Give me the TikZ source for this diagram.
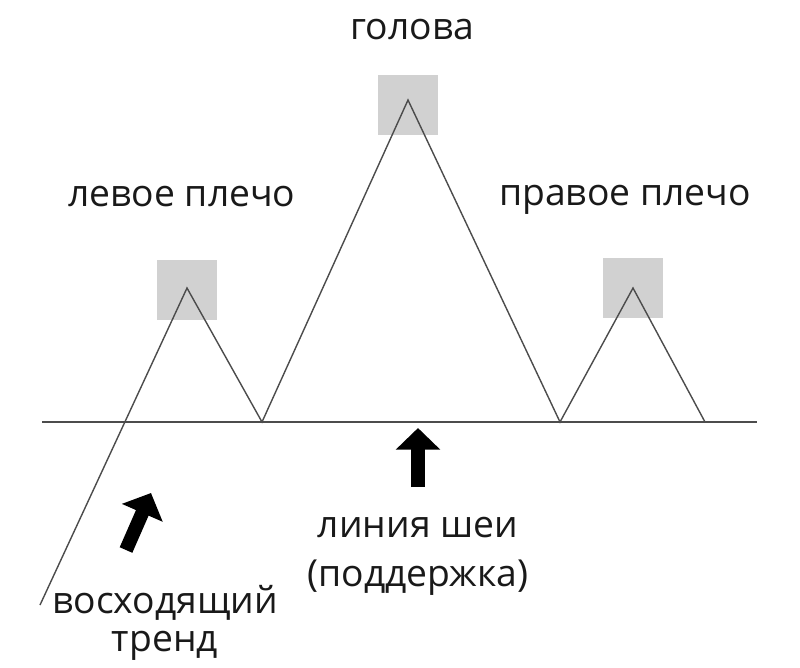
\documentclass[tikz,border=0pt]{standalone}
\usepackage{fontspec}
\setmainfont{Open Sans}
\usetikzlibrary{arrows.meta}
\begin{document}
\begin{tikzpicture}[x=0.025cm,y=-0.025cm,
  ln/.style={draw=black!70,line width=1pt},
  sq/.style={fill=black!18,draw=none},
  lbl/.style={font=\fontsize{26.5}{32}\selectfont,text=black!90},
  blk/.style={-{Triangle[width=44pt*0.7,length=22pt*0.7]},line width=14pt*0.7,black}]
\useasboundingbox (0,0) rectangle (800,667);
\fill[sq] (157,260) rectangle (217,320);
\fill[sq] (378,75) rectangle (438,135);
\fill[sq] (603,258) rectangle (663,318);
\coordinate (n1) at (42,422); \coordinate (n2) at (757,422);
\coordinate (t0) at (40,605);
\coordinate (ls) at (187,288); \coordinate (b1) at (262,422);
\coordinate (hd) at (408,100); \coordinate (b2) at (560,422);
\coordinate (rs) at (633,288); \coordinate (b3) at (705,422);
\draw[ln] (n1) -- (n2);
\draw[ln] (t0) -- (ls) -- (b1) -- (hd) -- (b2) -- (rs) -- (b3);
\coordinate (a1) at (418,487); \coordinate (a2) at (418,428);
\draw[blk] (a1) -- (a2);
\coordinate (c1) at (126,550); \coordinate (c2) at (151,493);
\draw[blk] (c1) -- (c2);
\node[lbl] (g) at (412,30) {голова};
\node[lbl] (l) at (182,197) {левое плечо};
\node[lbl] (r) at (625,200) {правое плечо};
\node[lbl] (nk1) at (418,528) {линия шеи};
\node[lbl] (nk2) at (418,578) {(поддержка)};
\node[lbl] (u1) at (165,603) {восходящий};
\node[lbl] (u2) at (165,646) {тренд};
\end{tikzpicture}
\end{document}
